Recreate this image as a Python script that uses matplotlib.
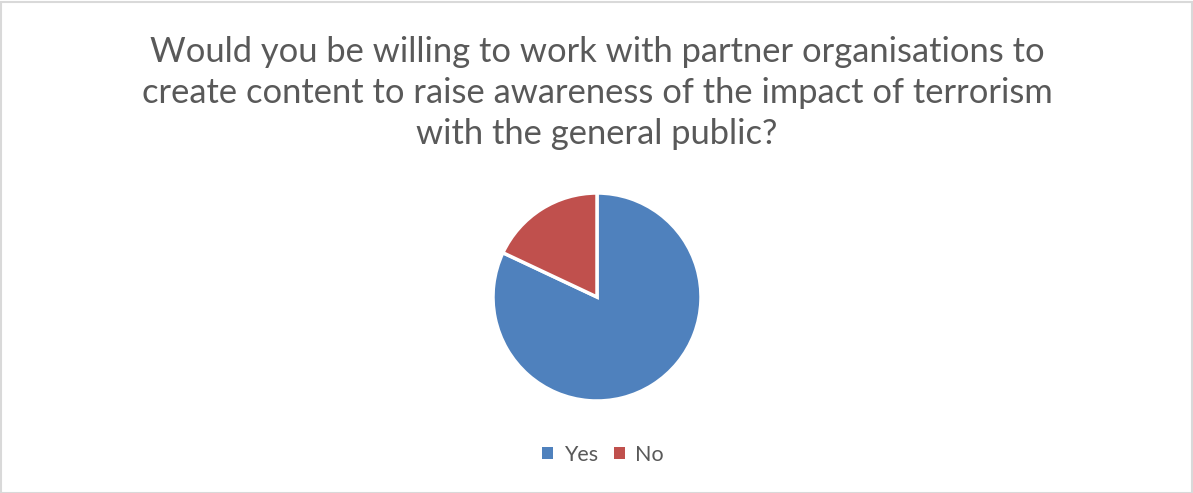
import matplotlib
matplotlib.use('Agg')
import matplotlib.pyplot as plt
from matplotlib.patches import Rectangle

# Survey answers
labels = ["Yes", "No"]
values = [82, 18]
colors = ["#4f81bd", "#c0504d"]

title = ("Would you be willing to work with partner organisations to\n"
         "create content to raise awareness of the impact of terrorism\n"
         "with the general public?")

W, H = 1193, 493
fig = plt.figure(figsize=(W / 100, H / 100), dpi=100)
fig.patch.set_facecolor("white")

# Light chart-area border
fig.patches.append(Rectangle((0.5 / W, 0.5 / H), 1 - 2 / W, 1 - 2 / H,
                             transform=fig.transFigure, fill=False,
                             edgecolor="#d9d9d9", linewidth=1.5))

# Pie centred at (597, 297) px with radius 104 px
cx, cy, r = 597, 297, 104
ax = fig.add_axes([(cx - r) / W, (H - cy - r) / H, 2 * r / W, 2 * r / H])
wedges, _ = ax.pie(values, colors=colors, startangle=90, counterclock=False,
                   wedgeprops=dict(edgecolor="white", linewidth=2.5))
ax.set_xlim(-1, 1)
ax.set_ylim(-1, 1)
ax.set_aspect("equal")
ax.axis("off")

fig.text(597 / W, 1 - 93 / H, title, ha="center", va="center",
         fontsize=24.8, color="#595959", family="Lato", linespacing=1.33)

# Legend below the pie
leg = fig.legend(wedges, labels, loc="center", bbox_to_anchor=(603 / W, 1 - 455 / H),
                 ncol=2, frameon=False, handlelength=0.5, handleheight=0.5,
                 handletextpad=0.5, columnspacing=0.75,
                 prop=dict(family="Lato", size=15.5))
for t in leg.get_texts():
    t.set_color("#595959")
for h in leg.legend_handles:
    h.set_linewidth(0)

fig.savefig("out.png", dpi=100)
